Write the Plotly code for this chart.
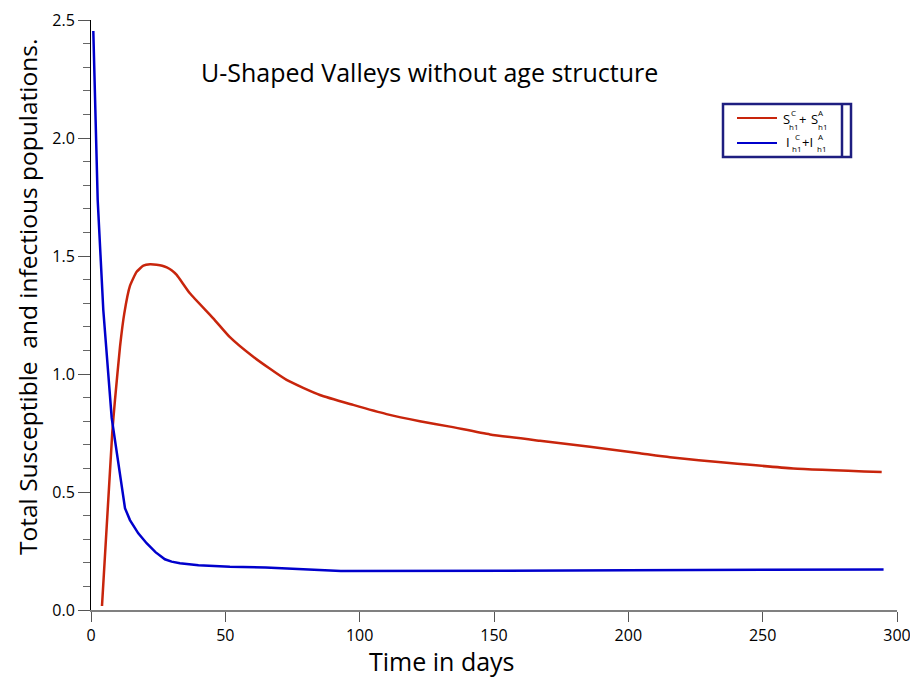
import plotly.graph_objects as go

# ---- data ----
blue_days = [0.86, 2.49, 4.58, 7.70, 12.65, 14.5, 17.6, 20.7, 24.0, 27.5, 30.0, 33.1, 40.0,
             51.7, 65.0, 75.0, 85.0, 93.0, 120.0, 150.0, 200.0, 250.0, 295.0]
blue_vals = [2.453, 1.737, 1.271, 0.814, 0.431, 0.381, 0.325, 0.283, 0.245, 0.215, 0.205,
             0.198, 0.190, 0.183, 0.180, 0.176, 0.170, 0.165, 0.165, 0.166, 0.168, 0.171, 0.172]

red_days = [4.09, 7.93, 8.93, 10.8, 12.4, 14.5, 17.0, 19.5, 22.0, 24.4, 26.5, 28.2, 30.0, 31.9,
            36.8, 45.5, 51.7, 60.4, 72.8, 85.2, 97.6, 110.0, 122.4, 133.6, 148.5, 167.1,
            185.7, 204.3, 215.5, 236.6, 261.4, 294.3]
red_vals = [0.017, 0.755, 0.89, 1.116, 1.257, 1.373, 1.433, 1.459, 1.465, 1.463, 1.459, 1.452,
            1.44, 1.42, 1.342, 1.236, 1.156, 1.073, 0.975, 0.911, 0.869, 0.83, 0.80, 0.777,
            0.744, 0.717, 0.692, 0.664, 0.647, 0.624, 0.600, 0.585]

x_ticks = [0, 50, 100, 150, 200, 250, 300]
y_ticks = [0.0, 0.5, 1.0, 1.5, 2.0, 2.5]

title_text = "U-Shaped Valleys without age structure"
x_title = "Time in days"
y_title = "Total Susceptible  and infectious populations."

RED = "#c8250c"
BLUE = "#0000cc"
NAVY = "#1e1e80"
FONT = "Open Sans"

W, H = 910, 677
L, R, T, B = 91, 13, 20, 67
PW, PH = W - L - R, H - T - B


def px(x):
    return (x - L) / PW


def py(y):
    return (H - B - y) / PH


fig = go.Figure()
fig.add_trace(go.Scatter(x=red_days, y=red_vals, mode="lines",
                         line=dict(color=RED, width=2.5, shape="spline", smoothing=0.5),
                         showlegend=False))
fig.add_trace(go.Scatter(x=blue_days, y=blue_vals, mode="lines",
                         line=dict(color=BLUE, width=2.5), showlegend=False))

fig.update_layout(
    width=W, height=H,
    margin=dict(l=L, r=R, t=T, b=B, autoexpand=False),
    paper_bgcolor="white", plot_bgcolor="white",
    font=dict(family=FONT, color="black"),
    showlegend=False,
)
fig.update_xaxes(range=[0, 300], tickvals=x_ticks, ticktext=[str(v) for v in x_ticks],
                 showgrid=False, zeroline=False, showline=True, linecolor="#808080",
                 linewidth=1.5, ticks="outside", ticklen=10, tickcolor="#555",
                 ticklabeloverflow="allow", automargin=False,
                 tickfont=dict(size=16, family=FONT))
fig.update_yaxes(range=[0, 2.5], tickvals=y_ticks, ticktext=[f"{v:.1f}" for v in y_ticks],
                 showgrid=False, zeroline=False, showline=True, linecolor="black",
                 linewidth=1, ticks="outside", ticklen=12, tickcolor="#555",
                 ticklabeloverflow="allow", automargin=False,
                 tickfont=dict(size=16, family=FONT),
                 minor=dict(dtick=0.1, ticks="outside", ticklen=7, tickcolor="#666"))

ann = []
ann.append(dict(x=px(429), y=py(72), xref="paper", yref="paper", text=title_text,
                showarrow=False, font=dict(size=25, family=FONT), xanchor="center", yanchor="middle"))
ann.append(dict(x=px(442), y=py(661), xref="paper", yref="paper", text=x_title,
                showarrow=False, font=dict(size=25, family=FONT), xanchor="center", yanchor="middle"))
ann.append(dict(x=px(27), y=py(297), xref="paper", yref="paper", text=y_title, textangle=-90,
                showarrow=False, font=dict(size=24.5, family=FONT), xanchor="center", yanchor="middle"))


def txt(x, y, s, size):
    ann.append(dict(x=px(x), y=py(y), xref="paper", yref="paper", text=s, showarrow=False,
                    font=dict(size=size, family=FONT, color="black"),
                    xanchor="center", yanchor="middle"))


# legend row 1: S^C_h1 + S^A_h1
txt(786, 119, "S", 13)
txt(793, 113, "C", 8)
txt(793, 126, "h1", 8)
txt(802, 119, "+", 13)
txt(814, 119, "S", 13)
txt(821, 113, "A", 8)
txt(822, 126, "h1", 8)
# legend row 2: I^C_h1 +I^A_h1
txt(788, 142, "I", 13)
txt(797, 136, "C", 8)
txt(796, 148, "h1", 8)
txt(807, 142, "+I", 13)
txt(821, 136, "A", 8)
txt(821, 148, "h1", 8)

shapes = [
    dict(type="rect", xref="paper", yref="paper", x0=px(723), x1=px(851), y0=py(104), y1=py(157),
         line=dict(color=NAVY, width=2.5), fillcolor="rgba(0,0,0,0)"),
    dict(type="line", xref="paper", yref="paper", x0=px(842), x1=px(842), y0=py(104), y1=py(157),
         line=dict(color=NAVY, width=2.5)),
    dict(type="line", xref="paper", yref="paper", x0=px(737), x1=px(777), y0=py(118), y1=py(118),
         line=dict(color=RED, width=2)),
    dict(type="line", xref="paper", yref="paper", x0=px(737), x1=px(777), y0=py(143), y1=py(143),
         line=dict(color=BLUE, width=2)),
]

fig.update_layout(annotations=ann, shapes=shapes)
fig.write_html("out.html", config={"displayModeBar": False},
               post_script="document.body.style.margin='0px';document.body.style.overflow='hidden';")
